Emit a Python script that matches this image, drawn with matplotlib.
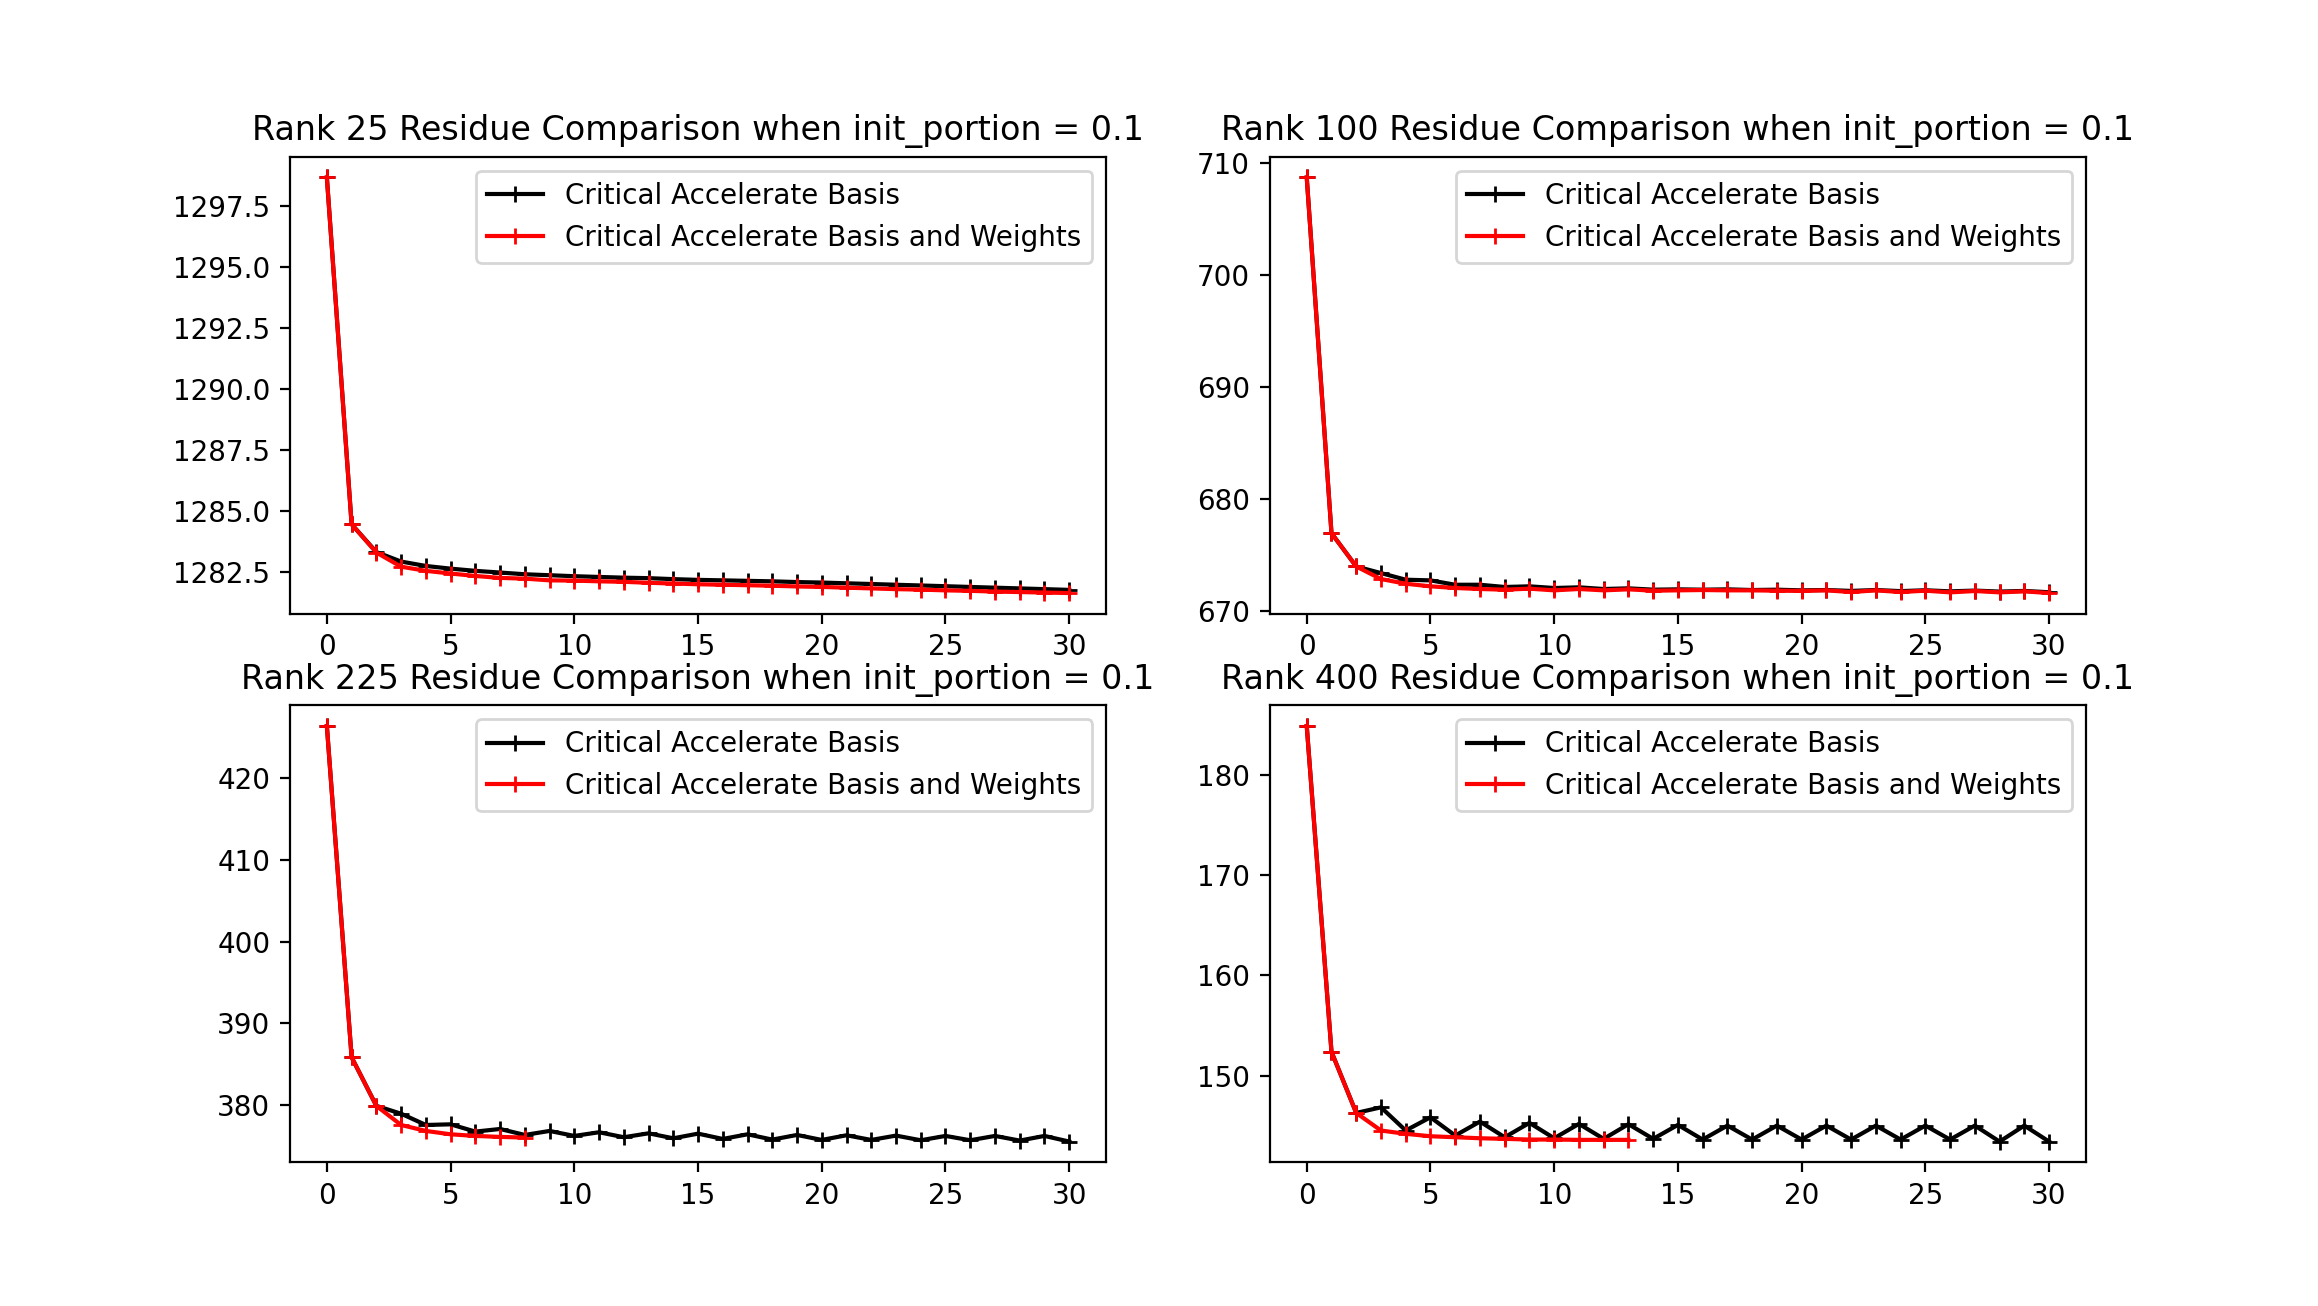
import matplotlib
matplotlib.use("Agg")
import matplotlib.pyplot as plt

# --- Residue per iteration --------------------------------------------------
ranks = [25, 100, 225, 400]

basis_25 = [1298.65, 1284.44, 1283.30, 1282.91, 1282.73, 1282.62, 1282.53, 1282.46,
            1282.39, 1282.35, 1282.31, 1282.28, 1282.25, 1282.23, 1282.19, 1282.16,
            1282.14, 1282.12, 1282.10, 1282.07, 1282.05, 1282.02, 1281.99, 1281.96,
            1281.93, 1281.90, 1281.87, 1281.84, 1281.81, 1281.78, 1281.75]
weights_25 = [1298.65, 1284.44, 1283.28, 1282.70, 1282.53, 1282.42, 1282.32, 1282.24,
              1282.21, 1282.14, 1282.13, 1282.10, 1282.08, 1282.04, 1282.01, 1281.98,
              1281.96, 1281.94, 1281.92, 1281.89, 1281.87, 1281.84, 1281.81, 1281.78,
              1281.76, 1281.73, 1281.71, 1281.68, 1281.66, 1281.64, 1281.62]

basis_100 = [708.70, 676.97, 674.00, 673.41, 672.82, 672.76, 672.37, 672.37,
             672.17, 672.23, 672.08, 672.14, 671.99, 672.05, 671.93, 671.96,
             671.93, 671.96, 671.90, 671.93, 671.87, 671.90, 671.82, 671.90,
             671.80, 671.88, 671.78, 671.85, 671.76, 671.82, 671.70]
weights_100 = [708.70, 676.97, 674.00, 672.88, 672.46, 672.23, 672.08, 671.99,
               671.93, 672.02, 671.87, 671.99, 671.87, 671.96, 671.84, 671.87,
               671.90, 671.87, 671.87, 671.84, 671.82, 671.87, 671.72, 671.87,
               671.72, 671.84, 671.69, 671.81, 671.69, 671.78, 671.63]

basis_225 = [426.40, 385.85, 379.90, 378.94, 377.56, 377.64, 376.75, 377.07,
             376.34, 376.83, 376.22, 376.67, 376.06, 376.54, 375.93, 376.50,
             375.85, 376.42, 375.77, 376.34, 375.73, 376.30, 375.73, 376.26,
             375.69, 376.22, 375.69, 376.22, 375.65, 376.22, 375.53]
weights_225 = [426.40, 385.85, 379.90, 377.56, 376.83, 376.42, 376.22, 376.10,
               376.02]

basis_400 = [184.83, 152.38, 146.29, 146.85, 144.54, 145.86, 144.04, 145.43,
             143.87, 145.30, 143.77, 145.20, 143.71, 145.17, 143.71, 145.10,
             143.64, 145.03, 143.64, 145.03, 143.64, 145.03, 143.64, 145.03,
             143.64, 145.03, 143.64, 145.03, 143.44, 145.03, 143.44]
weights_400 = [184.83, 152.38, 146.29, 144.54, 144.21, 143.97, 143.87, 143.77,
               143.71, 143.64, 143.64, 143.61, 143.61, 143.61]

basis_runs = [basis_25, basis_100, basis_225, basis_400]
weights_runs = [weights_25, weights_100, weights_225, weights_400]

init_portion = 0.1

# --- Figure -----------------------------------------------------------------
fig, axes = plt.subplots(2, 2, figsize=(11.59, 6.53), dpi=200)

for ax, rank, basis, weights in zip(axes.flat, ranks, basis_runs, weights_runs):
    ax.plot(range(len(basis)), basis, "k+-", label="Critical Accelerate Basis")
    ax.plot(range(len(weights)), weights, "r+-",
            label="Critical Accelerate Basis and Weights")
    ax.set_title(f"Rank {rank} Residue Comparison when init_portion = {init_portion}")
    ax.legend(loc="upper right")

fig.savefig("out.png", dpi=200)
